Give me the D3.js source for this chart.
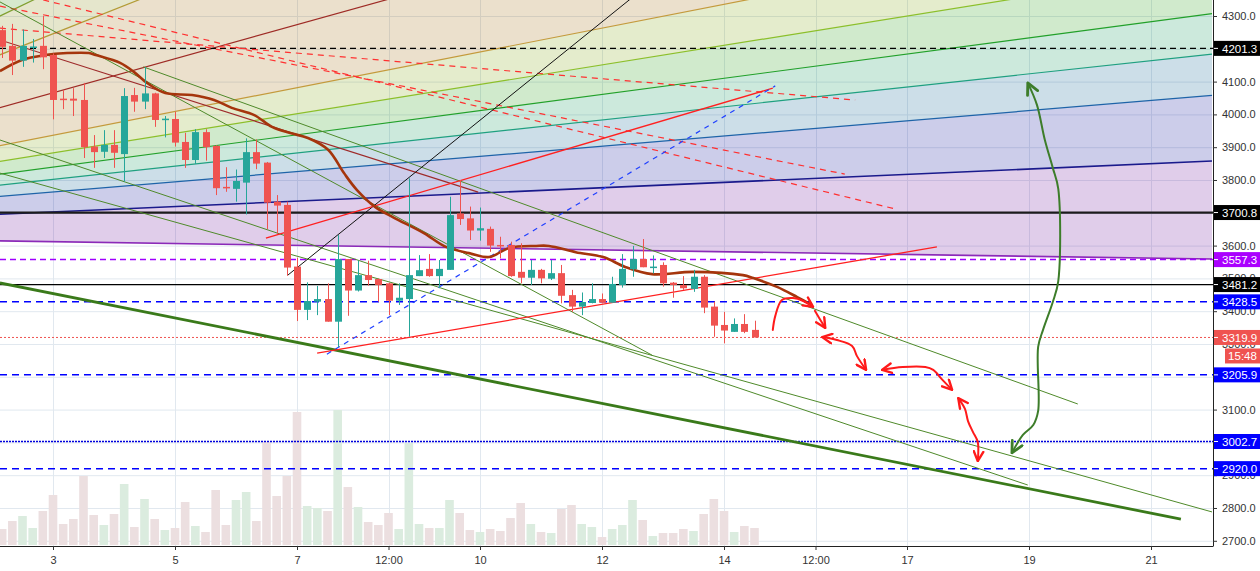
<!DOCTYPE html>
<html><head><meta charset="utf-8">
<script src="https://cdn.jsdelivr.net/npm/d3@7"></script>
<style>
html,body{margin:0;padding:0;background:#fff;}
svg{display:block;font-family:"Liberation Sans",Arial,sans-serif;}
</style></head><body>
<svg id="c" width="1260" height="571"></svg>
<script>
// ---------------- DATA ----------------
// 4h candles, first one opens 2019-01-02 04:00 UTC
const candleStart = "2019-01-02T04:00:00Z";
const candleHours = 4;
const open = [4257,4209,4164,4203,4209, 4181,4048,4048,4044,3902, 3886,3907,3879,4059,4039,
  4064,3983,3986,3916,3861, 3946,3904,3779,3773,3792, 3885,3853,3734,3724,3536,
  3404,3429,3437,3368,3559, 3463,3510,3498,3485,3432, 3437,3507,3529,3507,3526,
  3698,3683,3646,3651,3602, 3602,3520,3502,3526,3499, 3516,3449,3414,3425,3437,
  3426,3480,3528,3559,3534, 3541,3487,3480,3468,3505, 3414,3358,3337,3361,3343];
const high = [4270,4276,4259,4230,4300, 4186,4074,4080,4096,3937, 3952,3952,4080,4081,4144,
  4066,3995,4008,3944,3955, 3955,3906,3839,3832,3927, 3924,3855,3754,3734,3563,
  3488,3477,3485,3632,3559, 3554,3554,3500,3487,3485, 3805,3571,3574,3556,3749,
  3800,3719,3716,3658,3627, 3612,3607,3556,3529,3556, 3541,3465,3457,3485,3454,
  3505,3574,3599,3620,3570, 3549,3489,3507,3526,3510, 3429,3398,3378,3391,3371];
const low = [4172,4120,4145,4158,4138, 3985,4016,3995,3867,3837, 3867,3837,3795,4008,4016,
  3962,3930,3902,3837,3849, 3859,3754,3764,3734,3695, 3833,3650,3637,3508,3370,
  3373,3388,3368,3290,3386, 3460,3478,3429,3388,3419, 3322,3507,3505,3470,3526,
  3663,3617,3615,3581,3561, 3505,3485,3480,3485,3495, 3424,3398,3388,3424,3424,
  3426,3472,3505,3534,3515, 3475,3441,3465,3459,3394, 3322,3302,3337,3333,3320];
const close = [4206,4164,4209,4207,4174, 4044,4044,4042,3900,3885, 3907,3883,4056,4039,4064,
  3983,3987,3914,3861,3946, 3900,3775,3776,3797,3885, 3850,3731,3722,3533,3404,
  3431,3437,3368,3559,3463, 3510,3495,3480,3432,3441, 3510,3525,3507,3529,3693,
  3681,3646,3653,3600,3600, 3507,3502,3526,3500,3516, 3447,3414,3428,3437,3426,
  3483,3529,3559,3534,3536, 3485,3480,3470,3505,3411, 3356,3341,3361,3337,3320];
const volume = [16,24,29,17,34, 50,21,26,69,30, 20,31,61,18,46, 26,15,17,43,19,
  13,55,20,45,53, 24,103,49,69,133, 39,37,34,135,58, 38,23,20,32,16,
  102,21,17,17,45, 32,15,13,16,14, 27,42,21,13,12, 36,40,21,18,8,
  16,20,45,25,9, 12,12,16,14,31, 46,34,13,19,17];

// time in "day of January 2019" units (3.5 = Jan 3 12:00)
const timeTicks = [3,5,7,8.5,10,12,14,15.5,17,19,21];
const priceTicks = d3.range(2700, 4301, 100);

// horizontal levels
const levelPrices = [4201.3, 3700.8, 3557.3, 3481.2, 3428.5, 3319.9, 3205.9, 3002.7, 2920.0];
const countdownText = "15:48";

// fan drawing: origin and end prices of each ray at day 22
const fanOrigin = [-5.3, 3635];
const fanEndDay = 22;
const fanEndPrices = [6078, 5644, 5052, 4626, 4449, 4307, 4184, 4058, 3858, 3559];

// trend lines [day, price]
const redDashA = [[2.84,4349],[16.80,3712]];
const redDashB = [[2.13,4330],[15.98,3818]];
const redDashC = [[2.13,4263],[16.15,4044]];
const darkRedLine = [[2.13,4227],[9.97,3763]];
const greenL4 = [[2.13,4343],[12.82,3266]];
const greenL1 = [[4.48,4145],[19.80,3117]];
const greenL2 = [[2.13,3821],[22.0,2788]];
const greenL3 = [[2.13,3922],[18.98,2870]];
const greenThick = [[2.13,3486],[21.49,2766]];
const blackLine = [[6.85,3510],[12.62,4375]];
const redUpper = [[6.49,3623],[14.80,4080]];
const redLower = [[7.33,3272],[17.49,3596]];
const blueDash = [[7.49,3269],[14.84,4087]];

// moving average curve
const maPts = [[2.13,4132],[2.49,4166],[2.87,4181],[3.23,4187],[3.59,4187],[3.70,4181],[4.10,4157],
 [4.33,4129],[4.54,4096],[4.84,4065],[5.28,4059],[5.64,4044],[5.93,4020],[6.30,3998],[6.59,3962],
 [6.89,3943],[7.18,3928],[7.51,3892],[7.77,3821],[7.98,3770],[8.28,3718],[8.57,3687],[9.08,3638],
 [9.44,3596],[9.82,3577],[10.15,3565],[10.48,3593],[10.92,3599],[11.13,3599],[11.57,3580],[12.02,3565],
 [12.38,3535],[12.82,3513],[13.49,3520],[14.31,3510],[14.48,3501],[14.87,3474],[15.20,3443],[15.44,3419]];

// hand-drawn arrows
const arrowR1 = [[14.80,3343],[14.84,3385],[14.95,3434],[15.13,3440],[15.30,3431],[15.46,3413]];
const arrowR2 = [[15.49,3401],[15.56,3379],[15.66,3349]];
const arrowR3 = [[15.61,3321],[15.85,3312],[16.10,3294],[16.18,3263],[16.33,3221]];
const arrowR4 = [[16.59,3221],[16.93,3230],[17.30,3230],[17.43,3221],[17.57,3193],[17.74,3160]];
const arrowR5 = [[17.84,3135],[17.95,3102],[18.00,3065],[18.08,3032],[18.16,3001],[18.16,2943]];
const arrowG = [[18.98,4096],[19.13,4029],[19.26,3922],[19.39,3837],[19.48,3773],[19.48,3492],
 [19.39,3428],[19.23,3343],[19.15,3291],[19.15,3096],[19.07,3053],[18.90,3023],[18.72,2968]];

// ---------------- STYLE ----------------
const UP = "#26a69a", DOWN = "#ef5350";
const fanLineColors = ["#7f9f2f","#b39b35","#9e2b25","#c49a3c","#8cbf2a","#22a02a","#1fa080","#1e64a8","#1a1a8c","#8b2ab8"];
const fanBandColors = ["rgb(50,140,5)","rgb(125,130,0)","rgb(155,100,0)","rgb(155,100,0)","rgb(120,160,0)",
  "rgb(20,150,0)","rgb(0,145,80)","rgb(0,90,140)","rgb(0,5,150)","rgb(100,5,150)"];
const levelColors = ["#000","#1c1c1c","#a000ff","#000","#0000ff","#ef5350","#0000ff","#0000dd","#0000ff"];
const levelDash = ["6,4",null,"6,4",null,"7,5","2,2","7,5","2,1","7,5"];
const levelWidth = [1.2,2.2,1.5,1.2,1.5,1,1.5,1.5,1.5];
const labelBg = ["#000","#000","#aa00ff","#000","#0000ff","#ef5350","#0000ff","#0000ff","#0000ff"];

// ---------------- CHART ----------------
const PW = 1213, PH = 546;
const dayToDate = t => new Date(Date.UTC(2019,0,1) + (t-1)*864e5);
const x = d3.scaleUtc().domain([dayToDate(2.1311), dayToDate(22)]).range([0, 1212]);
const y = d3.scaleLinear().domain([2684.1, 4348.8]).range([546, 0]);
const vy = d3.scaleLinear().domain([0, 545]).range([545, 0]);
const X = t => x(dayToDate(t));

const svg = d3.select("#c");
const defs = svg.append("defs");
defs.append("clipPath").attr("id","plot").append("rect").attr("x",0).attr("y",0).attr("width",PW).attr("height",PH);
function marker(id, color, size){
  defs.append("marker").attr("id",id).attr("viewBox","0 0 10 10").attr("refX",9).attr("refY",5)
    .attr("markerWidth",size).attr("markerHeight",size).attr("markerUnits","userSpaceOnUse")
    .attr("orient","auto-start-reverse")
    .append("path").attr("d","M1,1 L9,5 L1,9").attr("fill","none").attr("stroke",color)
    .attr("stroke-width",2).attr("stroke-linecap","round").attr("stroke-linejoin","round");
}
marker("mR","#ff1a1a",12);
marker("mG","#3d7d2a",14);

svg.append("rect").attr("width",1260).attr("height",571).attr("fill","#fff");
const plot = svg.append("g").attr("clip-path","url(#plot)");

// grid
plot.append("g").selectAll("line").data(priceTicks).join("line")
  .attr("x1",0).attr("x2",PW).attr("y1",d=>y(d)+0.5).attr("y2",d=>y(d)+0.5)
  .attr("stroke","#e1e8ef").attr("stroke-width",1);
plot.append("g").selectAll("line").data(timeTicks).join("line")
  .attr("x1",d=>Math.round(X(d))+0.5).attr("x2",d=>Math.round(X(d))+0.5).attr("y1",0).attr("y2",PH)
  .attr("stroke","#e1e8ef").attr("stroke-width",1);

// fan bands
const fo = [X(fanOrigin[0]), y(fanOrigin[1])];
const ends = fanEndPrices.map(p => [X(fanEndDay), y(p)]);
const bands = [];
bands.push([fo, ends[0], [X(fanEndDay), y(20000)], [X(fanOrigin[0]), y(20000)]]);
for (let k=1;k<ends.length;k++) bands.push([fo, ends[k-1], ends[k]]);
plot.append("g").selectAll("path").data(bands).join("path")
  .attr("d", d => "M" + d.map(p=>p.join(",")).join("L") + "Z")
  .attr("fill",(d,i)=>fanBandColors[i]).attr("fill-opacity",0.2).attr("stroke","none");

// volume
const candles = open.map((o,i)=>({date:new Date(Date.parse(candleStart)+i*candleHours*3600e3),
  o, h:high[i], l:low[i], c:close[i], v:volume[i]}));
plot.append("g").selectAll("rect").data(candles).join("rect")
  .attr("x",d=>x(d.date)-4.3).attr("width",8.6)
  .attr("y",d=>vy(d.v)).attr("height",d=>vy(0)-vy(d.v))
  .attr("fill",d=>d.c>=d.o ? "#dbecdf" : "#ecdfe0");

// fan lines
plot.append("g").selectAll("line").data(ends).join("line")
  .attr("x1",fo[0]).attr("y1",fo[1]).attr("x2",d=>d[0]).attr("y2",d=>d[1])
  .attr("stroke",(d,i)=>fanLineColors[i]).attr("stroke-width",(d,i)=>i>=8?1.6:1.2);

// horizontal levels
plot.append("g").selectAll("line").data(levelPrices).join("line")
  .attr("x1",0).attr("x2",PW).attr("y1",d=>y(d)).attr("y2",d=>y(d))
  .attr("stroke",(d,i)=>levelColors[i]).attr("stroke-width",(d,i)=>levelWidth[i])
  .attr("stroke-dasharray",(d,i)=>levelDash[i]);

// trend lines
const line = d3.line().x(d=>X(d[0])).y(d=>y(d[1]));
const segs = [
  [redDashA,"#ff3030",1.2,"6,5"],[redDashB,"#ff3030",1.2,"6,5"],[redDashC,"#ff3030",1.2,"6,5"],
  [darkRedLine,"#9e2a2a",1.2,null],
  [greenL4,"#4f8a2a",1,null],[greenL1,"#4f8a2a",1,null],[greenL2,"#4f8a2a",1,null],[greenL3,"#4f8a2a",1,null],
  [greenThick,"#3a7a1a",2.8,null],
  [blackLine,"#111",1,null],[redUpper,"#ff2020",1.3,null],[redLower,"#ff2020",1.3,null],
  [blueDash,"#2040ff",1.2,"5,5"]
];
plot.append("g").selectAll("path").data(segs).join("path")
  .attr("d",d=>line(d[0])).attr("fill","none").attr("stroke",d=>d[1])
  .attr("stroke-width",d=>d[2]).attr("stroke-dasharray",d=>d[3]);

// MA
plot.append("path").attr("d", d3.line().x(d=>X(d[0])).y(d=>y(d[1])).curve(d3.curveCatmullRom.alpha(0.5))(maPts))
  .attr("fill","none").attr("stroke","#a5350c").attr("stroke-width",2.6).attr("stroke-linejoin","round");

// candles
const cg = plot.append("g");
cg.selectAll("line").data(candles).join("line")
  .attr("x1",d=>Math.round(x(d.date))+0.5).attr("x2",d=>Math.round(x(d.date))+0.5)
  .attr("y1",d=>y(d.h)).attr("y2",d=>y(d.l))
  .attr("stroke",d=>d.c>=d.o?UP:DOWN).attr("stroke-width",1);
cg.selectAll("rect").data(candles).join("rect")
  .attr("x",d=>Math.round(x(d.date))-3).attr("width",7)
  .attr("y",d=>y(Math.max(d.o,d.c)))
  .attr("height",d=>Math.max(1.5, Math.abs(y(d.o)-y(d.c))))
  .attr("fill",d=>d.c>=d.o?UP:DOWN);

// arrows
const curve = d3.line().x(d=>X(d[0])).y(d=>y(d[1])).curve(d3.curveCatmullRom.alpha(0.5));
const arrows = [[arrowR1,false,true,"R"],[arrowR2,false,true,"R"],[arrowR3,true,true,"R"],
  [arrowR4,true,true,"R"],[arrowR5,true,true,"R"],[arrowG,true,true,"G"]];
plot.append("g").selectAll("path").data(arrows).join("path")
  .attr("d",d=>curve(d[0])).attr("fill","none")
  .attr("stroke",d=>d[3]==="R"?"#ff1a1a":"#3d7d2a").attr("stroke-width",2)
  .attr("stroke-linecap","round").attr("stroke-linejoin","round")
  .attr("marker-start",d=>d[1]?`url(#m${d[3]})`:null)
  .attr("marker-end",d=>d[2]?`url(#m${d[3]})`:null);

// axes
const gx = svg.append("g").attr("transform",`translate(0,${PH})`)
  .call(d3.axisBottom(x).tickValues(timeTicks.map(dayToDate))
    .tickFormat(d=>d.getUTCHours()===12 ? "12:00" : String(d.getUTCDate()))
    .tickSize(4).tickSizeOuter(0).tickPadding(6));
gx.select(".domain").attr("stroke","#222").attr("d",`M0,0.5H${PW}`);
gx.selectAll(".tick line").attr("stroke","#333");
gx.selectAll("text").attr("font-size",11).attr("fill","#333").attr("font-family","Liberation Sans, Arial, sans-serif");

const gy = svg.append("g").attr("transform",`translate(${PW},0)`)
  .call(d3.axisRight(y).tickValues(priceTicks).tickFormat(d3.format(".1f"))
    .tickSize(4).tickSizeOuter(0).tickPadding(5));
gy.select(".domain").attr("stroke","#222").attr("d",`M0.5,0V${PH+0.5}`);
gy.selectAll(".tick line").attr("stroke","#333");
gy.selectAll("text").attr("font-size",11).attr("fill","#333").attr("font-family","Liberation Sans, Arial, sans-serif");

// level labels
const lg = svg.append("g").selectAll("g").data(levelPrices).join("g")
  .attr("transform",d=>`translate(${PW+1},${y(d)})`);
lg.append("rect").attr("x",0).attr("y",-7.5).attr("width",46).attr("height",15).attr("fill",(d,i)=>labelBg[i]);
lg.append("line").attr("x1",0).attr("x2",4).attr("y1",0).attr("y2",0).attr("stroke","#fff");
lg.append("text").attr("x",8).attr("y",0).attr("dy","0.36em").attr("fill","#fff")
  .attr("font-size",11.5).text(d=>d.toFixed(1));

// countdown
const cy = y(levelPrices[5]) + 11;
svg.append("rect").attr("x",PW+12).attr("y",cy).attr("width",35).attr("height",15).attr("fill","#ef5350");
svg.append("text").attr("x",PW+29.5).attr("y",cy+7.5).attr("dy","0.36em").attr("text-anchor","middle")
  .attr("fill","#fff").attr("font-size",11.5).text(countdownText);
</script>
</body></html>
